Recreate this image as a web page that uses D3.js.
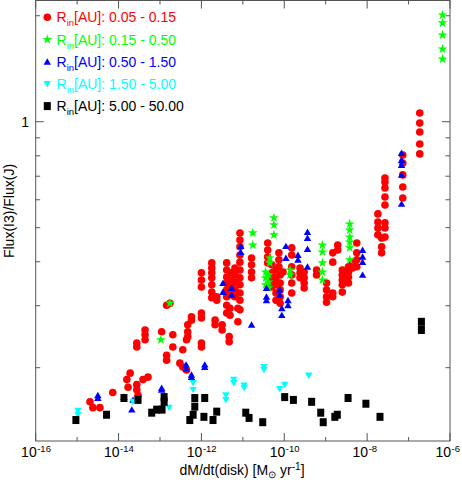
<!DOCTYPE html>
<html>
<head>
<meta charset="utf-8">
<script src="https://cdn.jsdelivr.net/npm/d3@7"></script>
<style>
  body { margin: 0; background: #fff; }
  text { font-family: "Liberation Sans", Arial, Helvetica, sans-serif; }
</style>
</head>
<body>
<svg width="462" height="480"></svg>
<script>
// points are [log10(dM/dt), Flux(I3)/Flux(J)]
var red = [
  [-6.73,1.059],[-6.73,0.991],[-6.73,0.935],[-6.73,0.864],[-6.73,0.810],
  [-7.14,0.804],[-7.14,0.763],[-7.14,0.706],[-7.14,0.652],[-7.14,0.607],
  [-7.57,0.692],[-7.57,0.674],[-7.57,0.648],[-7.57,0.611],[-7.57,0.580],
  [-7.57,0.516],[-7.57,0.499],[-7.57,0.470],
  [-7.74,0.547],[-7.74,0.519],[-7.74,0.499],[-7.74,0.477],
  [-7.65,0.467],[-7.65,0.441],[-7.65,0.424],
  [-8.25,0.452],[-8.25,0.424],[-8.25,0.405],[-8.25,0.387],
  [-8.35,0.399],[-8.35,0.384],
  [-8.45,0.387],[-8.45,0.374],[-8.45,0.362],[-8.45,0.348],
  [-8.60,0.379],[-8.60,0.367],[-8.60,0.355],[-8.60,0.344],[-8.60,0.328],
  [-8.71,0.446],[-8.71,0.432],
  [-8.83,0.424],[-8.83,0.399],[-8.83,0.326],[-8.83,0.318],
  [-8.98,0.348],[-8.98,0.333],[-8.98,0.318],[-8.98,0.307],
  [-9.22,0.379],[-9.22,0.367],
  [-9.62,0.384],[-9.62,0.372],[-9.62,0.360],
  [-9.52,0.374],[-9.52,0.360],[-9.52,0.348],[-9.52,0.337],
  [-9.82,0.438],[-9.82,0.418],[-9.82,0.387],[-9.82,0.367],[-9.82,0.348],[-9.82,0.326],
  [-10.03,0.374],
  [-10.13,0.424],[-10.13,0.405],[-10.13,0.387],
  [-10.40,0.452],[-10.40,0.432],[-10.40,0.413],[-10.40,0.397],
  [-10.30,0.392],[-10.30,0.372],[-10.30,0.355],[-10.30,0.339],
  [-10.20,0.379],[-10.20,0.360],[-10.20,0.344],[-10.20,0.326],[-10.20,0.311],
  [-10.10,0.367],[-10.10,0.348],[-10.10,0.333],[-10.10,0.318],[-10.10,0.305],
  [-10.79,0.410],[-10.79,0.392],[-10.79,0.374],[-10.79,0.360],
  [-11.07,0.483],[-11.07,0.461],[-11.07,0.441],[-11.07,0.418],[-11.07,0.399],[-11.07,0.379],
  [-11.07,0.360],[-11.07,0.344],[-11.07,0.326],[-11.07,0.311],[-11.07,0.292],
  [-11.12,0.295],[-11.12,0.270],
  [-11.19,0.384],[-11.19,0.367],[-11.19,0.350],[-11.19,0.333],[-11.19,0.318],
  [-11.27,0.372],[-11.27,0.355],[-11.27,0.339],[-11.27,0.322],
  [-11.39,0.397],[-11.39,0.379],[-11.39,0.362],[-11.39,0.348],[-11.39,0.333],[-11.39,0.318],
  [-11.39,0.301],[-11.39,0.286],
  [-11.31,0.295],[-11.31,0.282],
  [-11.33,0.245],[-11.33,0.237],
  [-11.50,0.265],[-11.50,0.256],
  [-11.67,0.273],[-11.67,0.265],
  [-11.63,0.318],[-11.63,0.311],
  [-11.75,0.397],[-11.75,0.384],[-11.75,0.372],[-11.75,0.360],[-11.75,0.344],[-11.75,0.328],[-11.75,0.316],
  [-12.00,0.372],[-12.00,0.355],[-12.00,0.339],[-12.00,0.286],[-12.00,0.277],[-12.00,0.235],[-12.00,0.229],
  [-12.24,0.279],[-12.24,0.273],
  [-12.33,0.265],[-12.33,0.253],[-12.33,0.245],
  [-12.36,0.240],[-12.45,0.225],
  [-12.52,0.206],[-12.45,0.201],[-12.36,0.197],
  [-12.69,0.248],[-12.69,0.229],
  [-12.76,0.305],
  [-12.84,0.301],[-12.84,0.217],[-12.84,0.210],
  [-12.96,0.253],
  [-13.36,0.256],[-13.36,0.248],[-13.36,0.240],
  [-13.56,0.235],[-13.56,0.229],
  [-13.29,0.188],[-13.41,0.185],
  [-13.56,0.179],[-13.56,0.173],[-13.53,0.167],
  [-13.72,0.193],[-13.80,0.185],[-13.77,0.176],
  [-14.14,0.170],
  [-14.69,0.160],[-14.62,0.154],[-14.45,0.154]
];
var green = [
  [-6.18,2.01],[-6.18,1.908],[-6.18,1.763],[-6.18,1.609],[-6.18,1.507],
  [-12.76,0.305],[-12.98,0.240],
  [-10.76,0.483],[-10.76,0.446],
  [-10.25,0.533],[-10.25,0.509],[-10.25,0.477],
  [-10.35,0.410],[-10.35,0.397],
  [-10.45,0.374],[-10.45,0.360],[-10.45,0.344],
  [-10.38,0.367],[-10.38,0.350],[-10.38,0.337],
  [-9.86,0.379],[-9.86,0.367],
  [-9.08,0.446],[-9.08,0.426],[-9.08,0.397],[-9.08,0.374],[-9.08,0.355],
  [-8.42,0.512],[-8.42,0.492],[-8.42,0.470],[-8.42,0.455],[-8.42,0.438],[-8.42,0.405]
];
var blue = [
  [-7.17,0.815],[-7.17,0.778],[-7.17,0.753],[-7.17,0.706],[-7.17,0.584],
  [-8.11,0.432],[-8.11,0.413],[-8.11,0.399],[-8.11,0.367],
  [-9.44,0.486],[-9.44,0.467],[-9.44,0.435],[-9.44,0.387],
  [-9.67,0.418],[-9.67,0.405],
  [-9.96,0.443],[-9.96,0.410],
  [-10.11,0.333],[-10.11,0.322],
  [-9.91,0.311],[-9.91,0.301],
  [-10.06,0.295],[-10.06,0.282],
  [-10.43,0.337],[-10.43,0.318],[-10.43,0.311],
  [-10.79,0.265],
  [-11.05,0.443],[-11.05,0.426],
  [-11.48,0.348],[-11.48,0.328],
  [-11.27,0.337],[-11.27,0.322],
  [-11.92,0.204],[-11.92,0.201],
  [-12.37,0.204],[-12.37,0.199],
  [-12.24,0.191],[-12.24,0.188],
  [-12.96,0.175],[-12.96,0.173],
  [-12.90,0.159],
  [-13.87,0.165],[-13.68,0.152],[-13.65,0.162],
  [-14.50,0.167],[-14.50,0.164]
];
var cyan = [
  [-14.98,0.151],[-14.98,0.147],
  [-13.65,0.160],
  [-12.78,0.154],
  [-12.20,0.181],[-12.20,0.173],
  [-11.41,0.167],[-11.41,0.162],
  [-11.22,0.185],[-11.22,0.181],
  [-10.97,0.178],[-10.97,0.175],
  [-10.49,0.201],[-10.49,0.197],
  [-10.11,0.174],
  [-9.99,0.179],
  [-9.41,0.190]
];
var black = [
  [-15.03,0.142],[-14.29,0.147],[-13.87,0.164],[-13.53,0.162],
  [-13.20,0.149],[-13.08,0.152],[-12.95,0.152],[-12.90,0.165],[-12.90,0.160],
  [-12.28,0.142],[-12.20,0.147],[-12.16,0.164],[-12.16,0.155],
  [-11.92,0.164],[-11.94,0.145],[-11.72,0.142],[-11.63,0.150],
  [-10.93,0.149],[-10.85,0.144],[-10.52,0.140],
  [-9.99,0.165],[-9.78,0.162],[-9.34,0.160],[-9.12,0.149],[-9.06,0.140],
  [-8.78,0.145],[-8.72,0.147],[-8.46,0.164],[-8.03,0.158],[-7.69,0.145],
  [-6.69,0.270],[-6.69,0.256]
];
var legendLabels = ["0.05 - 0.15", "0.15 - 0.50", "0.50 - 1.50", "1.50 - 5.00", "5.00 - 50.00"];
var xTickExps = [-16, -15, -14, -13, -12, -11, -10, -9, -8, -7, -6];
var yMinorTicks = [0.2, 0.3, 0.4, 0.5, 0.6, 0.7, 0.8, 0.9, 2];
var yMajorTicks = [1];

var plotLeft = 35.7, plotRight = 450, plotTop = 0.5, plotBottom = 441;

var svg = d3.select("svg");

var xScale = d3.scaleLog().domain([1e-16, 1e-6]).range([plotLeft, plotRight]);
var yScale = d3.scaleLog().domain([0.1238, 2.21]).range([plotBottom, plotTop]);

function px(d) { return xScale(Math.pow(10, d[0])); }
function py(d) { return yScale(d[1]); }

var plot = svg.append("g");

var series = [
  {data: red, color: "#ff0000", shape: "circle"},
  {data: green, color: "#00ff00", shape: "star"},
  {data: blue, color: "#0000ff", shape: "up"},
  {data: cyan, color: "#00ffff", shape: "down"},
  {data: black, color: "#000000", shape: "square"}
];

function drawMarks(g, shape, color, data, xf, yf) {
  if (shape == "circle") {
    g.selectAll("circle").data(data).enter().append("circle")
      .attr("cx", xf).attr("cy", yf).attr("r", 3.8).attr("fill", color);
  } else if (shape == "square") {
    g.selectAll("rect").data(data).enter().append("rect")
      .attr("x", function(d) { return xf(d) - 3.5; })
      .attr("y", function(d) { return yf(d) - 4; })
      .attr("width", 7).attr("height", 8).attr("fill", color);
  } else {
    var sym = shape == "star" ? d3.symbolStar : d3.symbolTriangle;
    var size = shape == "star" ? 30 : 24;
    var rot = shape == "down" ? 180 : 0;
    g.selectAll("path").data(data).enter().append("path")
      .attr("d", d3.symbol().type(sym).size(size))
      .attr("transform", function(d) {
        return "translate(" + xf(d) + "," + (yf(d) + (shape == "up" ? 0.8 : shape == "down" ? -0.8 : 0)) + ") rotate(" + rot + ")";
      })
      .attr("fill", color);
  }
}

series.forEach(function(s) {
  drawMarks(plot.append("g"), s.shape, s.color, s.data, px, py);
});

// frame and ticks
var axisColor = "#555";
svg.append("rect")
  .attr("x", plotLeft).attr("y", plotTop)
  .attr("width", plotRight - plotLeft).attr("height", plotBottom - plotTop)
  .attr("fill", "none").attr("stroke", axisColor).attr("stroke-width", 1);

var ticks = svg.append("g").attr("stroke", axisColor).attr("stroke-width", 1);
xTickExps.forEach(function(e) {
  var x = xScale(Math.pow(10, e));
  var len = (e % 2 == 0) ? 8 : 4;
  ticks.append("line").attr("x1", x).attr("x2", x).attr("y1", plotBottom).attr("y2", plotBottom - len);
  ticks.append("line").attr("x1", x).attr("x2", x).attr("y1", plotTop).attr("y2", plotTop + len);
});
yMinorTicks.concat(yMajorTicks).forEach(function(v) {
  var y = yScale(v);
  var len = yMajorTicks.indexOf(v) >= 0 ? 8 : 4.5;
  ticks.append("line").attr("x1", plotLeft).attr("x2", plotLeft + len).attr("y1", y).attr("y2", y);
  ticks.append("line").attr("x1", plotRight).attr("x2", plotRight - len).attr("y1", y).attr("y2", y);
});

// x tick labels
xTickExps.filter(function(e) { return e % 2 == 0; }).forEach(function(e) {
  var x = xScale(Math.pow(10, e));
  svg.append("text").attr("x", x + 1).attr("y", 457)
    .attr("text-anchor", "end").attr("font-size", 14).text("10");
  svg.append("text").attr("x", x + 1.5).attr("y", 451.5)
    .attr("font-size", 9.5).text("-" + Math.abs(e));
});

// y tick label
yMajorTicks.forEach(function(v) {
  svg.append("text").attr("x", 29).attr("y", yScale(v) + 5)
    .attr("text-anchor", "end").attr("font-size", 14).text(v);
});

// axis titles
var xt = svg.append("text").attr("x", 242).attr("y", 475)
  .attr("text-anchor", "middle").attr("font-size", 14);
xt.append("tspan").text("dM/dt(disk) [M");
xt.append("tspan").attr("font-size", 10).attr("dy", 3).text("\u2299");
xt.append("tspan").attr("dy", -3).text(" yr");
xt.append("tspan").attr("font-size", 10).attr("dy", -5).text("-1");
xt.append("tspan").attr("dy", 5).text("]");

svg.append("text")
  .attr("transform", "translate(14,211) rotate(-90)")
  .attr("text-anchor", "middle").attr("font-size", 14)
  .text("Flux(I3)/Flux(J)");

// legend
var leg = svg.append("g");
series.forEach(function(s, i) {
  var cy = 17.3 + i * 22.2;
  var g = leg.append("g");
  drawMarks(g, s.shape, s.color, [[0, 0]], function() { return 47.3; }, function() { return cy; });
  var t = leg.append("text").attr("x", 56.5).attr("y", cy + 5)
    .attr("font-size", 14).attr("fill", s.color);
  t.append("tspan").text("R");
  t.append("tspan").attr("font-size", 9.5).attr("dy", 4).text("in");
  t.append("tspan").attr("dy", -4).text("[AU]: " + legendLabels[i]);
});
</script>
</body>
</html>
